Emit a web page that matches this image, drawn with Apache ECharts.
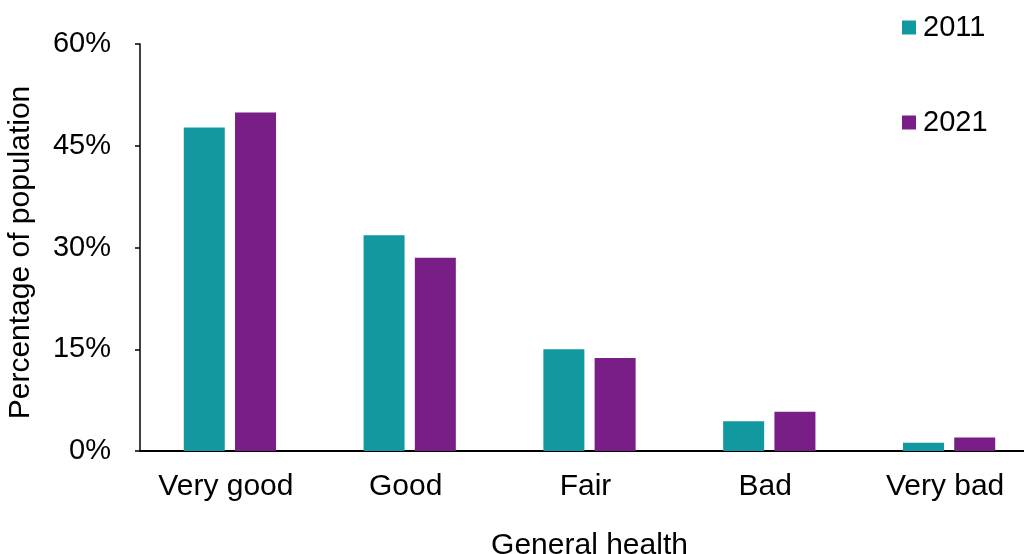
<!DOCTYPE html>
<html>
<head>
<meta charset="utf-8">
<script src="https://cdn.jsdelivr.net/npm/echarts@6/dist/echarts.min.js"></script>
<style>html,body{margin:0;padding:0;background:#fff;}#c{width:1024px;height:554px;}</style>
</head>
<body>
<div id="c"></div>
<script>
const categories = ['Very good', 'Good', 'Fair', 'Bad', 'Very bad'];
const values2011 = [47.7, 31.8, 15.0, 4.4, 1.2];
const values2021 = [49.9, 28.5, 13.7, 5.8, 2.0];
const yTicks = [0, 15, 30, 45, 60];

const chart = echarts.init(document.getElementById('c'), null, {renderer: 'canvas'});
const font = 'Liberation Sans, Arial, sans-serif';
chart.setOption({
  animation: false,
  backgroundColor: '#ffffff',
  textStyle: {fontFamily: font},
  legend: {
    orient: 'vertical',
    left: 897,
    top: 8,
    itemGap: 66,
    itemWidth: 14,
    itemHeight: 14,
    icon: 'rect',
    textStyle: {fontSize: 29, color: '#000', fontFamily: font, padding: [0, 0, 0, 2]},
    data: ['2011', '2021']
  },
  grid: {left: 140, top: 44, width: 899, height: 407, containLabel: false, outerBoundsMode: 'none'},
  xAxis: {
    type: 'category',
    data: categories,
    name: 'General health',
    nameLocation: 'middle',
    nameGap: 80,
    nameTextStyle: {fontSize: 30, color: '#000', fontFamily: font},
    axisLine: {lineStyle: {color: '#000', width: 2}},
    axisTick: {show: false},
    axisLabel: {fontSize: 30, color: '#000', margin: 21, fontFamily: font, padding: [0, 8, 0, 0]}
  },
  yAxis: {
    type: 'value',
    min: 0,
    max: 60,
    interval: 15,
    name: 'Percentage of population',
    nameLocation: 'middle',
    nameGap: 104,
    nameTextStyle: {fontSize: 30, color: '#000', fontFamily: font, padding: [0, 10, 0, 0]},
    axisLine: {show: true, lineStyle: {color: '#000', width: 1.5}},
    axisTick: {show: true, length: 5, lineStyle: {color: '#000', width: 1.5}},
    splitLine: {show: false},
    axisLabel: {
      fontSize: 29, color: '#000', margin: 29, fontFamily: font,
      formatter: v => yTicks.includes(v) ? v + '%' : ''
    }
  },
  series: [
    {name: '2011', type: 'bar', data: values2011, barWidth: 41, barGap: '25%', itemStyle: {color: '#11999f'}},
    {name: '2021', type: 'bar', data: values2021, barWidth: 41, barGap: '25%', itemStyle: {color: '#791e86'}}
  ]
});
</script>
</body>
</html>
